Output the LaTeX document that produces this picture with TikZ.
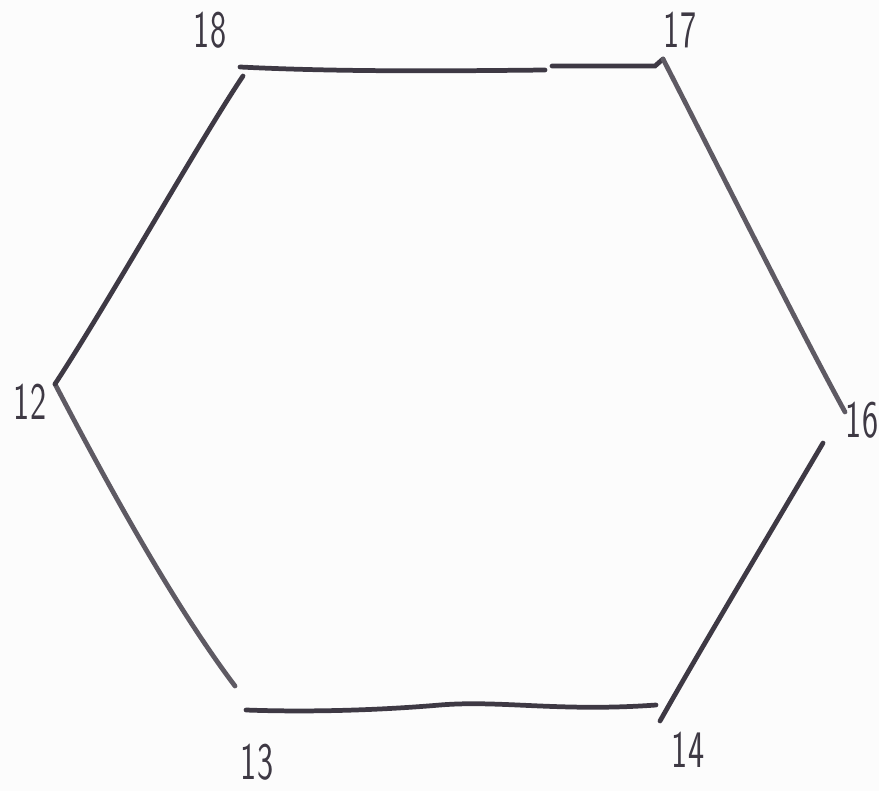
\documentclass[tikz,border=0pt]{standalone}
\usepackage{tikz}
\usepackage{graphicx}
\usetikzlibrary{positioning}
\definecolor{Ink}{HTML}{3E3944}
\definecolor{InkSoft}{HTML}{5E5A63}
\definecolor{Paper}{HTML}{FCFCFC}
\newcommand{\handnum}[1]{\scalebox{0.65}[1]{#1}}

\begin{document}
\begin{tikzpicture}[x=0.02cm,y=-0.02cm,edge/.style={draw=Ink, line width=2.7pt, line cap=round},softedge/.style={edge, draw=InkSoft},lbl/.style={font=\fontsize{30}{32}\selectfont\sffamily, text=Ink, inner sep=0pt}]
\fill[Paper] (0,0) rectangle (879,791);
\useasboundingbox (0,0) rectangle (879,791);
% vertex ends
\coordinate (t18) at (240,67);
\coordinate (l18) at (243,76);
\coordinate (topgapA) at (545,70);
\coordinate (topgapB) at (552,66);
\coordinate (h17) at (655,66);
\coordinate (v17) at (663,59);
\coordinate (v16a) at (845,412);
\coordinate (v16b) at (823,443);
\coordinate (r14) at (660,721);
\coordinate (b14) at (656,705);
\coordinate (b13) at (246,710);
\coordinate (l13) at (235,686);
\coordinate (v12) at (55,384);
% labels
\node[lbl] (n18) at (210,30) {\handnum{18}};
\node[lbl] (n17) at (680,30) {\handnum{17}};
\node[lbl] (n16) at (862,420) {\handnum{16}};
\node[lbl] (n14) at (688,750) {\handnum{14}};
\node[lbl] (n13) at (257,762) {\handnum{13}};
\node[lbl] (n12) at (30,402) {\handnum{12}};
% sides
\draw[edge] (t18) .. controls (340,72) and (450,71) .. (topgapA);
\draw[edge] (topgapB) -- (h17) -- (v17);
\draw[softedge] (v17) .. controls (720,170) and (800,330) .. (v16a);
\draw[edge] (v16b) .. controls (760,550) and (700,650) .. (r14);
\draw[edge] (b14) .. controls (560,712) and (500,700) .. (440,705) .. controls (370,711) and (300,712) .. (b13);
\draw[softedge] (l13) .. controls (170,600) and (100,470) .. (v12);
\draw[edge] (v12) .. controls (110,300) and (200,140) .. (l18);
\end{tikzpicture}
\end{document}
